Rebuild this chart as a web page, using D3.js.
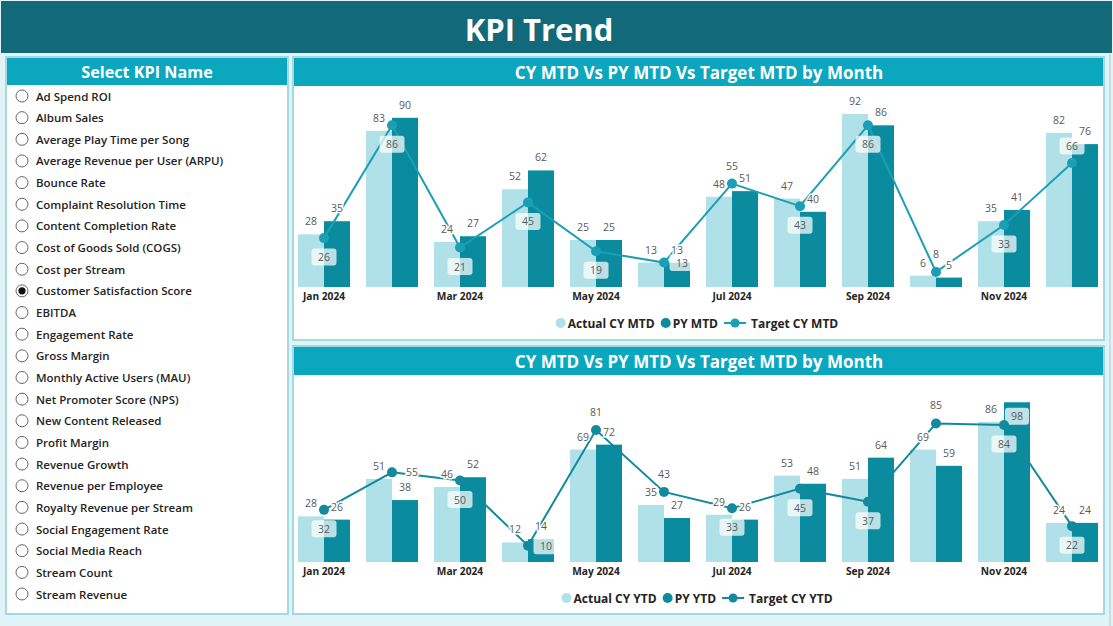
<!DOCTYPE html>
<html>
<head>
<meta charset="utf-8">
<script src="https://cdn.jsdelivr.net/npm/d3@7/dist/d3.min.js"></script>
<style>
  html, body { margin: 0; padding: 0; background: #e0f4f7; }
  svg { display: block; }
  text { font-family: "Open Sans", "Noto Sans", sans-serif; }
</style>
</head>
<body>
<svg id="chart" width="1113" height="626"></svg>
<script>
// ---------------- DATA ----------------
const months = ["Jan","Feb","Mar","Apr","May","Jun","Jul","Aug","Sep","Oct","Nov","Dec"];
const tickMonths = ["Jan","Mar","May","Jul","Sep","Nov"];
const tickYear = "2024";

const kpiNames = [
  "Ad Spend ROI","Album Sales","Average Play Time per Song","Average Revenue per User (ARPU)",
  "Bounce Rate","Complaint Resolution Time","Content Completion Rate","Cost of Goods Sold (COGS)",
  "Cost per Stream","Customer Satisfaction Score","EBITDA","Engagement Rate","Gross Margin",
  "Monthly Active Users (MAU)","Net Promoter Score (NPS)","New Content Released","Profit Margin",
  "Revenue Growth","Revenue per Employee","Royalty Revenue per Stream","Social Engagement Rate",
  "Social Media Reach","Stream Count","Stream Revenue"
];
const selectedKpi = "Customer Satisfaction Score";

const mtdActual = [28, 83, 24, 52, 25, 13, 48, 47, 92, 6, 35, 82];
const mtdPY     = [35, 90, 27, 62, 25, 13, 51, 40, 86, 5, 41, 76];
const mtdTarget = [26, 86, 21, 45, 19, 13, 55, 43, 86, 8, 33, 66];

const ytdActual = [28, 51, 46, 12, 69, 35, 29, 53, 51, 69, 86, 24];
const ytdPY     = [26, 38, 52, 14, 72, 27, 26, 48, 64, 59, 98, 24];
const ytdTarget = [32, 55, 50, 10, 81, 43, 33, 45, 37, 85, 84, 22];

// label placement hints for target labels (b: box below, ba: box above, a: plain above, r: box right, pr: plain right)
const mtdTargetLabelPos = ["b","b","b","b","b","r","a","b","b","a","b","ba"];
const ytdTargetLabelPos = ["b","pr","b","r","a","a","b","b","b","a","b","b"];

// ---------------- STYLE ----------------
const C = {
  page: "#e0f4f7",
  header: "#11697a",
  titleBar: "#0aa7bf",
  border: "#a3dae2",
  actual: "#b0e0e8",
  py: "#0a8c9e",
  targetTop: "#1a9fb5",
  targetBot: "#12899c",
  label: "#5a5a5a",
  text: "#252423"
};

const svg = d3.select("#chart");
svg.append("rect").attr("width", 1113).attr("height", 626).attr("fill", C.page);

// header
svg.append("rect").attr("x", 1).attr("y", 1).attr("width", 1111).attr("height", 52)
  .attr("fill", C.header);
svg.append("text").attr("x", 539).attr("y", 29).attr("text-anchor", "middle")
  .attr("dominant-baseline", "central").attr("fill", "#fff")
  .attr("font-size", 31).attr("font-weight", 700).text("KPI Trend");

// right page edge
svg.append("line").attr("x1", 1110).attr("x2", 1110).attr("y1", 54).attr("y2", 626)
  .attr("stroke", "#c4d6da").attr("stroke-width", 1.5);

// ---------------- LEFT PANEL ----------------
const lp = svg.append("g");
lp.append("rect").attr("x", 6).attr("y", 57).attr("width", 282).attr("height", 557)
  .attr("fill", "#fff").attr("stroke", C.border).attr("stroke-width", 2);
lp.append("rect").attr("x", 7).attr("y", 58).attr("width", 280).attr("height", 27)
  .attr("fill", C.titleBar);
lp.append("text").attr("x", 147).attr("y", 71.5).attr("text-anchor", "middle")
  .attr("dominant-baseline", "central").attr("fill", "#fff")
  .attr("font-size", 16.2).attr("font-weight", 700).text("Select KPI Name");

const itemY = d3.scaleLinear().domain([0, kpiNames.length - 1]).range([96, 594]);
const items = lp.selectAll("g.item").data(kpiNames).join("g").attr("class", "item")
  .attr("transform", (d, i) => `translate(0,${itemY(i)})`);
items.append("circle").attr("cx", 22).attr("cy", 0).attr("r", 6)
  .attr("fill", "#fff").attr("stroke", "#666").attr("stroke-width", 1);
items.filter(d => d === selectedKpi).append("circle").attr("cx", 22).attr("cy", 0).attr("r", 3.6)
  .attr("fill", "#111");
items.append("text").attr("x", 36).attr("y", 0).attr("dominant-baseline", "central")
  .attr("font-size", 11.5).attr("font-weight", 600).attr("fill", C.text).text(d => d);

// ---------------- CHART PANELS ----------------
function drawChart(cfg) {
  const g = svg.append("g");
  g.append("rect").attr("x", 293).attr("y", cfg.top).attr("width", 811).attr("height", cfg.height)
    .attr("fill", "#fff").attr("stroke", C.border).attr("stroke-width", 2);
  g.append("rect").attr("x", 294).attr("y", cfg.top + 1).attr("width", 809).attr("height", 28)
    .attr("fill", C.titleBar);
  g.append("text").attr("x", 699).attr("y", cfg.top + 15).attr("text-anchor", "middle")
    .attr("dominant-baseline", "central").attr("fill", "#fff")
    .attr("font-size", 17).attr("font-weight", 700).text(cfg.title);

  const x = d3.scaleBand().domain(months).range([298, 1098]).paddingInner(0.235).paddingOuter(0);
  const xi = d3.scaleBand().domain(["a", "p"]).range([0, x.bandwidth()]).padding(0);
  const y = d3.scaleLinear().domain([0, 100]).range([cfg.base, cfg.plotTop]);

  const rows = months.map((m, i) => ({ m, a: cfg.actual[i], p: cfg.py[i], t: cfg.target[i], pos: cfg.pos[i] }));

  // bars
  g.selectAll("rect.a").data(rows).join("rect").attr("class", "a")
    .attr("x", d => x(d.m) + xi("a")).attr("width", xi.bandwidth())
    .attr("y", d => y(d.a)).attr("height", d => y(0) - y(d.a)).attr("fill", C.actual);
  g.selectAll("rect.p").data(rows).join("rect").attr("class", "p")
    .attr("x", d => x(d.m) + xi("p")).attr("width", xi.bandwidth())
    .attr("y", d => y(d.p)).attr("height", d => y(0) - y(d.p)).attr("fill", C.py);

  // axis
  const ax = g.append("g").attr("transform", `translate(0,${cfg.base})`)
    .call(d3.axisBottom(x).tickValues(tickMonths).tickSize(0).tickPadding(6)
      .tickFormat(d => `${d} ${tickYear}`));
  ax.select(".domain").remove();
  ax.selectAll("text").attr("font-size", 10.2).attr("font-weight", 700).attr("fill", C.text)
    .style("font-family", '"Open Sans", sans-serif');

  // line
  const cx = d => x(d.m) + x.bandwidth() / 2;
  const line = d3.line().x(cx).y(d => y(d.t));
  g.append("path").datum(rows).attr("d", line).attr("fill", "none")
    .attr("stroke", cfg.lineColor).attr("stroke-width", 2);

  // bar labels
  const barLabel = (key, off) => {
    rows.forEach(d => {
      const v = d[key];
      const lx = x(d.m) + xi(off) + xi.bandwidth() / 2;
      let ly = y(v) - 13;
      const inside = ly < cfg.plotTop - 2;
      if (inside) {
        ly = y(v) + 14;
        g.append("rect").attr("x", lx - 12).attr("y", ly - 8.5).attr("width", 24).attr("height", 17)
          .attr("rx", 3).attr("fill", "#fff").attr("fill-opacity", 0.75);
      }
      g.append("text").attr("x", lx).attr("y", ly).attr("text-anchor", "middle")
        .attr("dominant-baseline", "central").attr("font-size", 10.5).attr("fill", C.label)
        .attr("stroke", inside ? "none" : "#fff").attr("stroke-width", 3).attr("paint-order", "stroke")
        .text(v);
    });
  };
  barLabel("a", "a");
  barLabel("p", "p");

  // points
  g.selectAll("circle.t").data(rows).join("circle").attr("class", "t")
    .attr("cx", cx).attr("cy", d => y(d.t)).attr("r", 5).attr("fill", cfg.lineColor);

  // target labels
  rows.forEach(d => {
    let lx = cx(d), ly = y(d.t), box = true;
    if (d.pos === "b") ly += 19;
    else if (d.pos === "ba") ly -= 17;
    else if (d.pos === "a") { ly -= 18; box = false; }
    else if (d.pos === "r") lx += 18;
    else if (d.pos === "pr") { lx += 20; box = false; }
    if (box) {
      g.append("rect").attr("x", lx - 12.5).attr("y", ly - 8.5).attr("width", 25).attr("height", 17)
        .attr("rx", 3).attr("fill", "#fff").attr("fill-opacity", 0.72);
    }
    g.append("text").attr("x", lx).attr("y", ly).attr("text-anchor", "middle")
      .attr("dominant-baseline", "central").attr("font-size", 10.5).attr("fill", C.label)
      .attr("stroke", box ? "none" : "#fff").attr("stroke-width", 3).attr("paint-order", "stroke")
      .text(d.t);
  });

  // legend
  const lg = g.append("g");
  const entries = [
    { name: cfg.names[0], type: "dot", color: C.actual },
    { name: cfg.names[1], type: "dot", color: C.py },
    { name: cfg.names[2], type: "line", color: cfg.lineColor }
  ];
  let cur = 0;
  entries.forEach(e => {
    const gg = lg.append("g");
    let mw;
    if (e.type === "dot") {
      gg.append("circle").attr("cx", 5).attr("cy", 0).attr("r", 5).attr("fill", e.color);
      mw = 12;
    } else {
      gg.append("line").attr("x1", 0).attr("x2", 22).attr("y1", 0).attr("y2", 0)
        .attr("stroke", e.color).attr("stroke-width", 2);
      gg.append("circle").attr("cx", 11).attr("cy", 0).attr("r", 4.5).attr("fill", e.color);
      mw = 27;
    }
    const t = gg.append("text").attr("x", mw).attr("y", 0).attr("dominant-baseline", "central")
      .attr("font-size", 12).attr("font-weight", 700).attr("fill", C.text).text(e.name);
    const w = mw + t.node().getComputedTextLength();
    gg.attr("transform", `translate(${cur},0)`);
    cur += w + 6;
  });
  const total = cur - 6;
  lg.attr("transform", `translate(${697 - total / 2},${cfg.legendY})`);
}

drawChart({
  top: 57, height: 283, title: "CY MTD Vs PY MTD Vs Target MTD by Month",
  base: 287, plotTop: 99, legendY: 323,
  actual: mtdActual, py: mtdPY, target: mtdTarget, pos: mtdTargetLabelPos,
  lineColor: C.targetTop, names: ["Actual CY MTD", "PY MTD", "Target CY MTD"]
});
drawChart({
  top: 346, height: 268, title: "CY MTD Vs PY MTD Vs Target MTD by Month",
  base: 562, plotTop: 399, legendY: 598,
  actual: ytdActual, py: ytdPY, target: ytdTarget, pos: ytdTargetLabelPos,
  lineColor: C.targetBot, names: ["Actual CY YTD", "PY YTD", "Target CY YTD"]
});
</script>
</body>
</html>
